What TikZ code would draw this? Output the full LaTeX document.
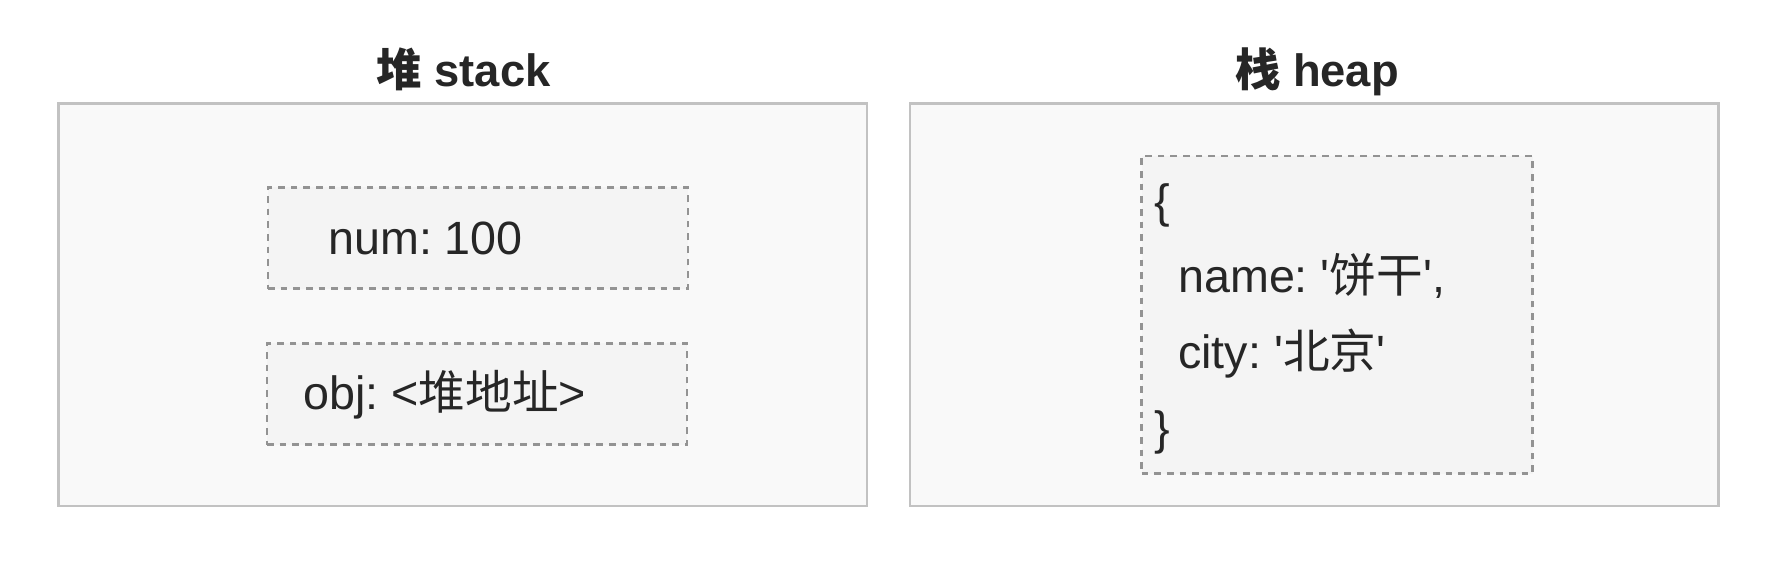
\documentclass[tikz,border=0pt]{standalone}
\usepackage{fontspec}
\setmainfont{Liberation Sans}
\newfontfamily\cjk{Noto Sans CJK SC}
\newcommand{\zh}[1]{{\cjk #1}}
\newcommand{\sq}{\textquotesingle}
\frenchspacing
\definecolor{areafill}{HTML}{F9F9F9}
\definecolor{arealine}{HTML}{C2C2C2}
\definecolor{slotfill}{HTML}{F4F4F4}
\definecolor{slotline}{HTML}{939393}
\definecolor{ink}{HTML}{262626}

\begin{document}
\begin{tikzpicture}[x=0.75pt,y=0.75pt,yscale=-1,xscale=1,
	area/.style={draw=arealine, fill=areafill, line width=1.8pt, inner sep=0pt},
	slot/.style={draw=slotline, fill=slotfill, line width=2.2pt, dash pattern=on 5pt off 4.5pt, inner sep=0pt},
	title/.style={font=\fontsize{34}{40}\selectfont\bfseries, text=ink, inner sep=0pt},
	code/.style={font=\fontsize{35}{40}\selectfont, text=ink, inner sep=0pt}]
		\useasboundingbox (0,0) rectangle (1766,588);
		% outer areas
		\node [area, minimum width=606.3pt, minimum height=301.7pt] (stack) at (462.8,304.8) {};
		\node [area, minimum width=606.3pt, minimum height=301.7pt] (heap) at (1314.3,304.8) {};
		\draw (463.5,87) node [title, anchor=base] (stacktitle) {\zh{堆} stack};
		\draw (1317,87) node [title, anchor=base] (heaptitle) {\zh{栈} heap};
		% slots
		\node [slot, minimum width=315pt, minimum height=76pt] (numslot) at (478,238) {};
		\node [slot, minimum width=315pt, minimum height=76pt] (objslot) at (477,394) {};
		\node [slot, minimum width=293.25pt, minimum height=238.2pt] (objbody) at (1337,314.8) {};
		% texts
		\draw (328,254) node [code, anchor=base west] (numtext) {num: 100};
		\draw (303,409) node [code, anchor=base west] (objtext) {obj: <\zh{堆地址}>};
		\draw (1154,217) node [code, anchor=base west] (lbrace) {\{};
		\draw (1178,292.7) node [code, anchor=base west] (nametext) {name: \sq\zh{饼干}\sq,};
		\draw (1178,368.3) node [code, anchor=base west] (citytext) {city: \sq\zh{北京}\sq};
		\draw (1154,444) node [code, anchor=base west] (rbrace) {\}};
\end{tikzpicture}
\end{document}
